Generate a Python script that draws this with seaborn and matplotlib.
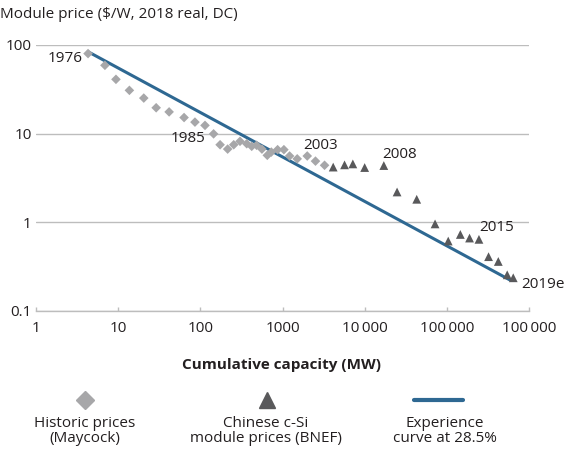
import numpy as np
import pandas as pd
import seaborn as sns
import matplotlib
matplotlib.use("Agg")
import matplotlib.pyplot as plt
from matplotlib.lines import Line2D
from matplotlib.ticker import FixedLocator, NullLocator

sns.set_theme(style="white")
plt.rcParams['font.family'] = ['Open Sans', 'DejaVu Sans']

# historic prices (Maycock): cumulative MW, $/W
hist_mw = [4.3, 6.9, 9.4, 13.7, 20.5, 29, 41.7, 63.4, 86, 114, 145, 174, 215, 255, 304,
           367, 422, 484, 562, 653, 731, 872, 1040, 1220, 1510, 2000, 2520, 3250]
hist_price = [80, 59, 41, 30.8, 25.2, 19.6, 17.6, 15.2, 13.5, 12.4, 9.95, 7.5, 6.7, 7.5, 8.2,
              7.7, 7.2, 7.4, 6.7, 5.7, 6.2, 6.6, 6.6, 5.6, 5.2, 5.6, 4.9, 4.4]

# Chinese c-Si module prices (BNEF)
bnef_mw = [4140, 5690, 7180, 10000, 17100, 24800, 43000, 71900, 104000, 146000, 189000,
           246000, 322000, 423000, 543000, 643000]
bnef_price = [4.2, 4.45, 4.56, 4.15, 4.37, 2.2, 1.82, 0.96, 0.615, 0.73, 0.665,
              0.643, 0.41, 0.362, 0.256, 0.237]

# experience curve at 28.5%
curve_mw = [4.3, 580000]
curve_price = [84, 0.225]

year_labels = ["1976", "1985", "2003", "2008", "2015", "2019e"]
year_mw = [4.3, 145, 2520, 17100, 246000, 643000]
year_price = [80, 9.95, 4.9, 4.37, 0.643, 0.237]

x_ticks = [1, 10, 100, 1000, 10000, 100000, 1000000]
x_ticklabels = ["1", "10", "100", "1000", "10\u2009000", "100\u2009000", "100\u2009000"]
y_ticks = [0.1, 1, 10, 100]
y_ticklabels = ["0.1", "1", "10", "100"]

C_HIST = "#a7a7a9"
C_BNEF = "#59595b"
C_LINE = "#2e6892"
C_TEXT = "#231f20"
C_GRID = "#bdbdbd"
FS = 11

hist = pd.DataFrame({"mw": hist_mw, "price": hist_price})
bnef = pd.DataFrame({"mw": bnef_mw, "price": bnef_price})
curve = pd.DataFrame({"mw": curve_mw, "price": curve_price})

fig = plt.figure(figsize=(5.68, 4.51), dpi=100)
ax = fig.add_axes([36/568, 1 - 311/451, 493/568, 266/451])

sns.lineplot(data=curve, x="mw", y="price", ax=ax, color=C_LINE, linewidth=2.2, zorder=2)
sns.scatterplot(data=hist, x="mw", y="price", ax=ax, marker="D", s=24, color=C_HIST,
                edgecolor="none", zorder=3)
sns.scatterplot(data=bnef, x="mw", y="price", ax=ax, marker="^", s=40, color=C_BNEF,
                edgecolor="none", zorder=3)

ax.set_xscale("log")
ax.set_yscale("log")
ax.set_xlim(1, 1000000)
ax.set_ylim(0.1, 100)

ax.yaxis.set_major_locator(FixedLocator(y_ticks))
ax.yaxis.set_minor_locator(NullLocator())
ax.set_yticklabels(y_ticklabels)
ax.xaxis.set_major_locator(FixedLocator(x_ticks))
ax.xaxis.set_minor_locator(NullLocator())
ax.set_xticklabels(x_ticklabels)

ax.grid(axis="y", color=C_GRID, linewidth=1)
ax.grid(axis="x", visible=False)
for side in ["left", "right", "top"]:
    ax.spines[side].set_visible(False)
ax.spines["bottom"].set_color(C_GRID)
ax.spines["bottom"].set_linewidth(1)
ax.tick_params(axis="x", direction="in", length=3, color=C_GRID, width=1,
               bottom=True, labelsize=FS, labelcolor=C_TEXT, pad=7)
ax.tick_params(axis="y", length=0, labelsize=FS, labelcolor=C_TEXT, pad=3)
ax.set_xlabel("")
ax.set_ylabel("")

# year annotations (offsets in points)
offsets = [(-4, -3.5, "right"), (-6, -3, "right"), (-9, 11.5, "left"), (-1, 8, "left"),
           (0, 8.5, "left"), (6, -5, "left")]
for lab, mx, py, (dx, dy, ha) in zip(year_labels, year_mw, year_price, offsets):
    ax.annotate(lab, (mx, py), xytext=(dx, dy), textcoords="offset points",
                ha=ha, va="center", fontsize=FS, color=C_TEXT)

fig.text(0.0, 1 - 14/451, "Module price ($/W, 2018 real, DC)", fontsize=FS,
         color=C_TEXT, va="center", ha="left")
fig.text(282/568, 1 - 365/451, "Cumulative capacity (MW)", fontsize=FS,
         fontweight="bold", color=C_TEXT, ha="center", va="center")

# legend with keys above the labels
key_y = 1 - 400/451
fig.add_artist(Line2D([85/568], [key_y], marker="D", markersize=9, color=C_HIST,
                      linestyle="none", transform=fig.transFigure))
fig.add_artist(Line2D([267/568], [key_y], marker="^", markersize=12, color=C_BNEF,
                      linestyle="none", transform=fig.transFigure))
fig.add_artist(Line2D([414/568, 463/568], [key_y, key_y], color=C_LINE, linewidth=3,
                      transform=fig.transFigure))
legend_labels = ["Historic prices\n(Maycock)", "Chinese c-Si\nmodule prices (BNEF)",
                 "Experience\ncurve at 28.5%"]
for lx, lab in zip([85, 266, 445], legend_labels):
    fig.text(lx/568, 1 - 431/451, lab, fontsize=FS, color=C_TEXT, ha="center",
             va="center", linespacing=1.05)

fig.savefig("out.png", dpi=100)
